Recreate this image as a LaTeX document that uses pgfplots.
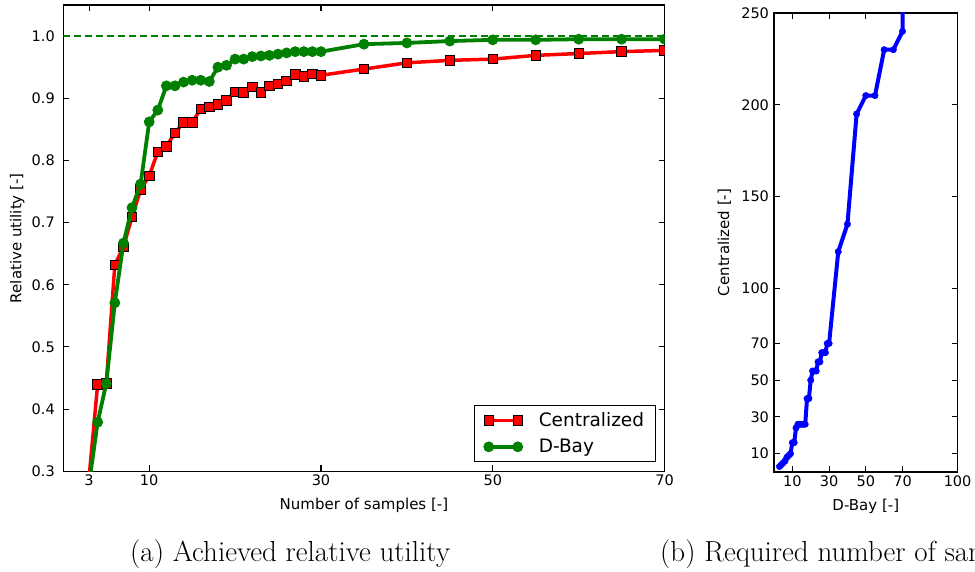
\documentclass[border=0pt]{standalone}
\usepackage{fontspec}
\setsansfont{DejaVu Sans}
\usepackage{pgfplots}
\pgfplotsset{compat=1.18}
\definecolor{mplred}{RGB}{255,0,0}
\definecolor{mplgreen}{RGB}{0,128,0}
\definecolor{mplblue}{RGB}{0,0,255}

\newcommand{\tickfont}{\sffamily\fontsize{14.5}{16}\selectfont}
\newcommand{\labelfont}{\sffamily\fontsize{15}{17}\selectfont}
\newcommand{\legfont}{\sffamily\fontsize{18.5}{21}\selectfont}
\newcommand{\capfont}{\rmfamily\fontsize{29}{33}\selectfont}

\pgfplotsset{
  mpl/.style={
    scale only axis,
    axis line style={line width=1.2pt},
    tick align=inside,
    major tick length=6pt,
    every tick/.style={black, line width=1pt},
    tick label style={font=\tickfont},
    label style={font=\labelfont},
    clip marker paths=true,
  },
}

\begin{document}
\begin{tikzpicture}[x=1pt,y=1pt]
\useasboundingbox (0,0) rectangle (975,571);
\coordinate (pa) at (63.3,99.7);
\coordinate (pb) at (774,99);

% (a) relative utility
\begin{axis}[mpl,
  at={(pa)}, anchor=south west,
  width=601.3pt, height=466.3pt,
  xmin=0, xmax=70, ymin=0.3, ymax=1.05,
  xtick={3,10,30,50,70}, xticklabels={3,10,30,50,70},
  ytick={0.3,0.4,0.5,0.6,0.7,0.8,0.9,1.0},
  yticklabels={0.3,0.4,0.5,0.6,0.7,0.8,0.9,1.0},
  yticklabel style={xshift=-5pt},
  xlabel={Number of samples [-]},
  ylabel={Relative utility [-]},
  xlabel style={at={(axis description cs:0.5,-0.073)}, anchor=center},
  ylabel style={at={(axis description cs:-0.0765,0.5)}, anchor=center},
  legend style={at={(axis description cs:1,0)}, anchor=south east,
    xshift=-9pt, yshift=9.5pt, font=\legfont, draw=black, line width=1pt,
    inner xsep=9pt, inner ysep=5pt, row sep=7pt,
    /tikz/every odd column/.append style={column sep=14pt}},
  legend cell align=left,
  legend image code/.code={\draw[mark repeat=2,mark phase=1]
    plot coordinates {(0pt,0pt) (14.5pt,0pt) (29pt,0pt)};},
]
\addplot[forget plot, mplgreen, line width=1.2pt, dash pattern=on 7pt off 4pt]
  coordinates {(0,1) (70,1)};
\addplot[mplred, line width=3.5pt, mark=square*, mark size=4.8pt,
  mark options={draw=black, fill=mplred, line width=0.8pt, solid}] coordinates {
  (3,0.29) (4,0.440) (5,0.441) (6,0.632) (7,0.661) (8,0.709) (9,0.753) (10,0.775)
  (11,0.814) (12,0.823) (13,0.844) (14,0.861) (15,0.861) (16,0.883) (17,0.886)
  (18,0.890) (19,0.897) (20,0.910) (21,0.909) (22,0.918) (23,0.909) (24,0.920)
  (25,0.923) (26,0.928) (27,0.938) (28,0.935) (29,0.939) (30,0.937) (35,0.947)
  (40,0.957) (45,0.961) (50,0.963) (55,0.969) (60,0.972) (65,0.975) (70,0.977)
};
\addlegendentry{Centralized}
\addplot[mplgreen, line width=3.8pt, mark=*, mark size=5pt,
  mark options={draw=mplgreen, fill=mplgreen, line width=0.8pt, solid}] coordinates {
  (3,0.28) (4,0.379) (5,0.441) (6,0.571) (7,0.667) (8,0.724) (9,0.762) (10,0.862)
  (11,0.881) (12,0.920) (13,0.920) (14,0.926) (15,0.929) (16,0.929) (17,0.927)
  (18,0.950) (19,0.953) (20,0.963) (21,0.963) (22,0.967) (23,0.968) (24,0.969)
  (25,0.971) (26,0.973) (27,0.975) (28,0.975) (29,0.975) (30,0.975) (35,0.987)
  (40,0.989) (45,0.992) (50,0.994) (55,0.994) (60,0.995) (65,0.995) (70,0.995)
};
\addlegendentry{D-Bay}
\end{axis}

% (b) required number of samples
\begin{axis}[mpl,
  at={(pb)}, anchor=south west,
  width=183.6pt, height=459pt,
  xmin=0, xmax=100, ymin=0, ymax=250,
  xtick={10,30,50,70,100}, xticklabels={10,30,50,70,100},
  ytick={10,30,50,70,100,150,200,250},
  yticklabels={10,30,50,70,100,150,200,250},
  yticklabel style={xshift=-1.5pt},
  xlabel={D-Bay [-]},
  ylabel={Centralized [-]},
  xlabel style={at={(axis description cs:0.5,-0.0756)}, anchor=center},
  ylabel style={at={(axis description cs:-0.27,0.5)}, anchor=center},
]
\addplot[mplblue, line width=4pt, mark=*, mark size=3.2pt,
  mark options={draw=mplblue, fill=mplblue, line width=0.5pt, solid}] coordinates {
  (3,3) (4,4) (5,5) (6,6) (7,8) (8,9) (9,10) (10,16) (11,16) (12,24) (13,26)
  (14,26) (15,26) (16,26) (17,26) (18,40) (19,40) (20,50) (21,55) (22,55)
  (23,55) (24,60) (25,60) (26,65) (27,65) (28,65) (29,70) (30,70) (35,120)
  (40,135) (45,195) (50,205) (55,205) (60,230) (65,230) (70,240) (70,300)
};
\end{axis}

\node[anchor=base west, font=\capfont, inner sep=0pt] at (130,10)
  {(a) Achieved relative utility};
\node[anchor=base west, font=\capfont, inner sep=0pt] at (660,10)
  {(b) Required number of samples};
\end{tikzpicture}
\end{document}
